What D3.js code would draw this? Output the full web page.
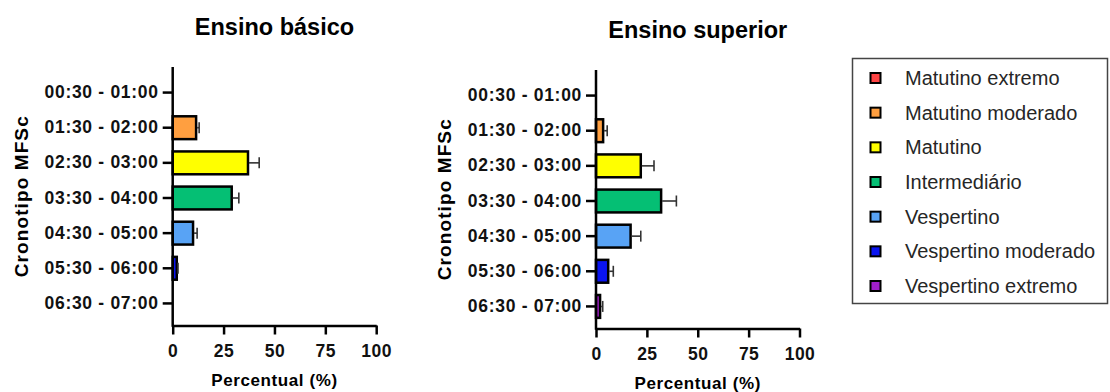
<!DOCTYPE html>
<html>
<head>
    <meta charset="utf-8">
    <style>
        body { margin: 0; background: #fff; }
        svg text { font-family: "Liberation Sans", Arial, sans-serif; }
        .axis path, .axis line { stroke: #000; stroke-width: 2.5px; }
        .axis text { font-size: 17.5px; font-weight: bold; fill: #111; letter-spacing: 0.7px; }
        .title { font-size: 23.5px; font-weight: bold; text-anchor: middle; }
        .axis-title { font-size: 17px; font-weight: bold; text-anchor: middle; letter-spacing: 0.6px; }
        .bar { stroke: #000; stroke-width: 2.5px; }
        .err { stroke: #333; stroke-width: 1.6px; }
        .legend text { font-size: 20px; fill: #262626; }
    </style>
    <script src="https://d3js.org/d3.v7.min.js"></script>
    <title>Cronotipo MFSc</title>
</head>
<body>
    <svg id="chart" width="1110" height="392"></svg>
    <script>
        // faixas de horário (eixo y)
        var categories = ["00:30 - 01:00", "01:30 - 02:00", "02:30 - 03:00", "03:30 - 04:00",
            "04:30 - 05:00", "05:30 - 06:00", "06:30 - 07:00"];
        // cronotipos (legenda), um por faixa
        var chronotypes = ["Matutino extremo", "Matutino moderado", "Matutino", "Intermediário",
            "Vespertino", "Vespertino moderado", "Vespertino extremo"];
        var colors = ["#ff4545", "#ff9f40", "#ffff00", "#05bf74", "#58a3f5", "#0a14f0", "#a01fc8"];

        var basicoValues = [0, 11.5, 37, 29, 10, 2, 0];
        var basicoErrors = [0, 1.5, 5.5, 3.5, 2, 0.6, 0];
        var superiorValues = [0, 3.5, 22, 32, 17, 6, 2];
        var superiorErrors = [0, 2, 6.5, 7.5, 5, 2.5, 1.3];

        var xTicks = [0, 25, 50, 75, 100];

        var svg = d3.select("#chart");

        function drawPanel(left, top, title, values, errors) {
            var w = 203.5, h = 258.5;
            var g = svg.append("g").attr("transform", "translate(" + left + "," + top + ")");

            var x = d3.scaleLinear().domain([0, 100]).range([0, w]);
            var y = d3.scaleBand().domain(categories).range([8, h - 4.5])
                .paddingInner(0.35).paddingOuter(0.175);

            var data = categories.map(function (c, i) {
                return { cat: c, v: values[i], e: errors[i], color: colors[i] };
            }).filter(function (d) { return d.v > 0; });

            // barras
            g.selectAll(".bar")
                .data(data)
                .enter()
                .append("rect")
                .attr("class", "bar")
                .attr("x", x(0))
                .attr("y", function (d) { return y(d.cat); })
                .attr("width", function (d) { return x(d.v) - x(0); })
                .attr("height", y.bandwidth())
                .attr("fill", function (d) { return d.color; });

            // barras de erro (só o lado positivo)
            var err = g.selectAll(".errg")
                .data(data.filter(function (d) { return d.e > 0; }))
                .enter()
                .append("g");
            err.append("line")
                .attr("class", "err")
                .attr("x1", function (d) { return x(d.v) + 1; })
                .attr("x2", function (d) { return x(d.v + d.e); })
                .attr("y1", function (d) { return y(d.cat) + y.bandwidth() / 2; })
                .attr("y2", function (d) { return y(d.cat) + y.bandwidth() / 2; });
            err.append("line")
                .attr("class", "err")
                .attr("x1", function (d) { return x(d.v + d.e); })
                .attr("x2", function (d) { return x(d.v + d.e); })
                .attr("y1", function (d) { return y(d.cat) + y.bandwidth() / 2 - 5.5; })
                .attr("y2", function (d) { return y(d.cat) + y.bandwidth() / 2 + 5.5; });

            // eixo y
            var ya = g.append("g").attr("class", "axis")
                .call(d3.axisLeft(y).tickSize(10).tickPadding(4).tickSizeOuter(0));
            ya.select(".domain").remove();
            ya.append("line").attr("x1", 0).attr("x2", 0).attr("y1", 0).attr("y2", h + 1.2);

            // eixo x
            var xa = g.append("g").attr("class", "axis")
                .attr("transform", "translate(0," + h + ")")
                .call(d3.axisBottom(x).tickValues(xTicks).tickSize(9).tickPadding(10).tickSizeOuter(0));
            xa.selectAll("text").style("font-size", "17.5px").style("letter-spacing", "0.5px");

            g.append("text")
                .attr("class", "title")
                .attr("x", x(50))
                .attr("y", -32)
                .text(title);

            g.append("text")
                .attr("class", "axis-title")
                .attr("transform", "translate(-145," + (h / 2) + ") rotate(-90)")
                .style("font-size", "19px")
                .style("letter-spacing", "1.1px")
                .text("Cronotipo MFSc");

            g.append("text")
                .attr("class", "axis-title")
                .attr("x", x(50))
                .attr("y", h + 60)
                .text("Percentual (%)");
        }

        drawPanel(172.7, 67, "Ensino básico", basicoValues, basicoErrors);
        drawPanel(596, 70, "Ensino superior", superiorValues, superiorErrors);

        // legenda
        var legend = svg.append("g").attr("class", "legend");
        legend.append("rect")
            .attr("x", 852.5).attr("y", 58.5)
            .attr("width", 255).attr("height", 245)
            .attr("fill", "none").attr("stroke", "#444").attr("stroke-width", 1.5);

        var ly = d3.scalePoint().domain(chronotypes).range([78, 286]);
        var item = legend.selectAll(".item")
            .data(chronotypes)
            .enter()
            .append("g")
            .attr("transform", function (d) { return "translate(0," + ly(d) + ")"; });
        item.append("rect")
            .attr("x", 870.5).attr("y", -5)
            .attr("width", 10).attr("height", 10)
            .attr("fill", function (d, i) { return colors[i]; })
            .attr("stroke", "#000").attr("stroke-width", 2);
        item.append("text")
            .attr("x", 905)
            .attr("dy", "0.35em")
            .text(function (d) { return d; });
    </script>
</body>
</html>
